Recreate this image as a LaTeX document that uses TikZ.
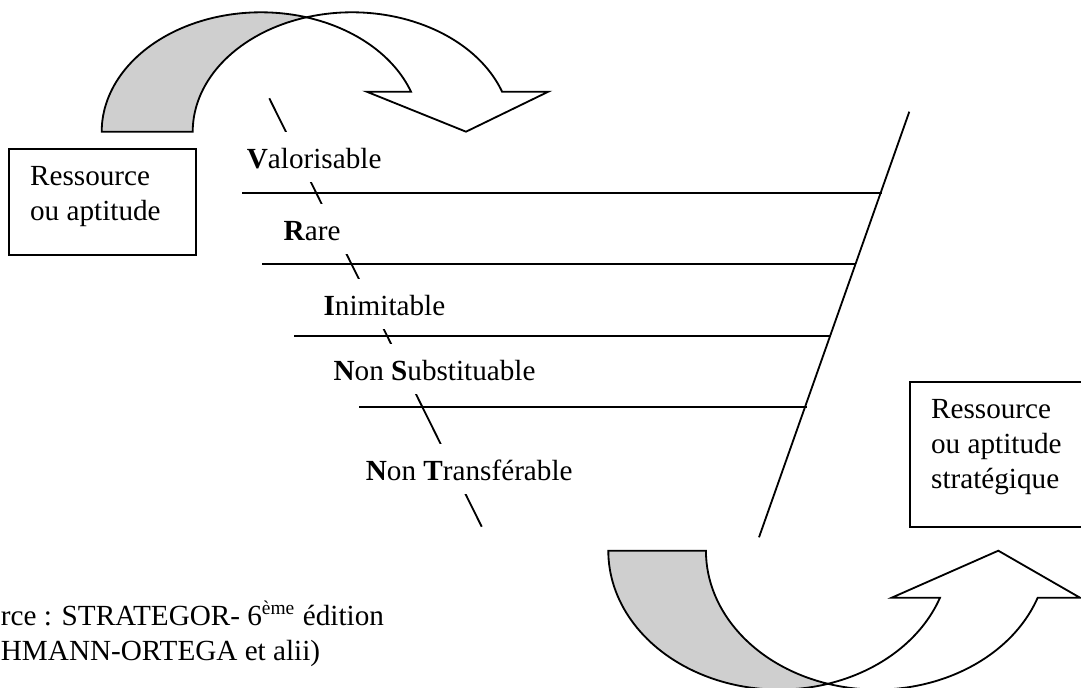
\documentclass[tikz,border=0pt]{standalone}
\usepackage{fontspec}
\setmainfont{Liberation Serif}
\usepackage{xcolor}
\definecolor{bandgray}{gray}{0.81}

\begin{document}
\begin{tikzpicture}[
    x=0.4111pt, y=-0.4111pt, line width=0.75pt,
    font=\fontsize{12}{14.4}\selectfont,
    crit/.style={anchor=base west, fill=white, inner xsep=6pt, inner ysep=0pt,
                 text height=15.2pt, text depth=5.55pt},
    box/.style={draw, anchor=north west, align=flush left, inner xsep=8.6pt,
                inner ysep=0pt, text height=15.1pt}]
  \useasboundingbox (0,0) rectangle (1081,688);
  \clip (0,0) rectangle (1081,688);
  % top curved arrow
  \draw[fill=bandgray] (101.7,131.7)
    arc[start angle=180, end angle=286.6, x radius=159.3, y radius=119.4]
    arc[start angle=253.4, end angle=180, x radius=159.3, y radius=119.4] -- cycle;
  \draw[fill=white] (306.5,17.3)
    arc[start angle=253.4, end angle=340.4, x radius=159.3, y radius=119.4]
    -- (548.3,91.7) -- (466,131.7) -- (366.7,91.7) -- (411,91.7)
    arc[start angle=340.4, end angle=286.6, x radius=159.3, y radius=119.4] -- cycle;
  % bottom curved arrow
  \draw[fill=bandgray] (608.3,550.7)
    arc[start angle=180, end angle=73.4, x radius=170.9, y radius=138.9]
    arc[start angle=106.6, end angle=180, x radius=170.9, y radius=138.9] -- cycle;
  \draw[fill=white] (828.05,683.8)
    arc[start angle=106.6, end angle=19.8, x radius=170.9, y radius=138.9]
    -- (1080,597.7) -- (998.3,550.7) -- (891.7,597.7) -- (940,597.7)
    arc[start angle=19.8, end angle=73.4, x radius=170.9, y radius=138.9] -- cycle;
  % filter lines
  \draw (909.3,111.7) -- (759,537.3);
  \draw (242.3,193.3) -- (882,193.3);
  \draw (262.3,264.3) -- (855.4,264.3);
  \draw (294,336) -- (830.1,336);
  \draw (359.3,406.7) -- (806.7,406.7);
  \draw (269.3,98.3) -- (481.7,526.7);
  % criteria
  \node[crit] (valo) at (231.4,169) {\textbf{V}alorisable};
  \node[crit] (rare) at (268.1,240.7) {\textbf{R}are};
  \node[crit] (inim) at (308.1,315.7) {\textbf{I}nimitable};
  \node[crit] (nsub) at (318.1,380.7) {\textbf{N}on \textbf{S}ubstituable};
  \node[crit] (ntra) at (350.4,480.7) {\textbf{N}on \textbf{T}ransférable};
  % boxes
  \node[box, text width=59.5pt, text depth=28.4pt] (res) at (8.3,148.3)
    {Ressource\\ou aptitude};
  \node[box, text width=110pt, text depth=44.5pt] (strat) at (909.3,381)
    {Ressource\\ou aptitude\\stratégique};
  \node[anchor=base west, inner sep=0pt, text width=300pt, align=flush left] (src)
    at (0,625) {rce : STRATEGOR- 6\textsuperscript{ème} édition\\HMANN-ORTEGA et alii)};
\end{tikzpicture}
\end{document}
